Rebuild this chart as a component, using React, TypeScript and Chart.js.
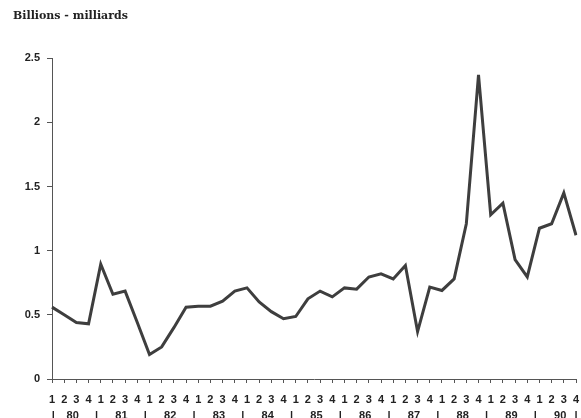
import React, { useEffect, useRef } from "react";
import { Chart, registerables } from "chart.js";

Chart.register(...registerables);

const years = ["80", "81", "82", "83", "84", "85", "86", "87", "88", "89", "90"];
const quarters = ["1", "2", "3", "4"];
const values = [
  0.56, 0.5, 0.44, 0.43,
  0.895, 0.66, 0.685, 0.44,
  0.19, 0.25, 0.4, 0.56,
  0.567, 0.567, 0.607, 0.685,
  0.71, 0.6, 0.525, 0.47,
  0.487, 0.625, 0.685, 0.64,
  0.71, 0.7, 0.795, 0.82,
  0.78, 0.885, 0.37, 0.717,
  0.69, 0.78, 1.21, 2.37,
  1.28, 1.37, 0.93, 0.795,
  1.175, 1.21, 1.45, 1.12,
];
const yTicks = [0, 0.5, 1, 1.5, 2, 2.5];
const titleText = "Billions - milliards";

const labels: string[] = [];
years.forEach(() => quarters.forEach((q) => labels.push(q)));

const TEXT = "#222";
const AXIS = "#555";
const TICK_FONT = { family: "'Liberation Sans', Arial, sans-serif", size: 11, weight: "bold" as const };

const yearRow = {
  id: "yearRow",
  afterDraw(chart: any) {
    const x = chart.scales.x;
    const ctx = chart.ctx;
    ctx.save();
    ctx.fillStyle = TEXT;
    ctx.font = "bold 11px 'Liberation Sans', Arial, sans-serif";
    ctx.textAlign = "center";
    ctx.textBaseline = "alphabetic";
    const y = 419;
    const n = years.length;
    for (let k = 0; k <= n; k++) {
      let v = k * 4 - 0.35;
      if (k === 0) v = 0.1;
      if (k === n) v = n * 4 - 1;
      ctx.fillText("|", x.getPixelForValue(v), y);
    }
    years.forEach((yr, k) => {
      ctx.fillText(yr, x.getPixelForValue(k * 4 + 1.7), y);
    });
    ctx.restore();
  },
};

export default function App() {
  const ref = useRef<HTMLCanvasElement | null>(null);
  useEffect(() => {
    document.body.style.margin = "0";
    const chart = new Chart(ref.current!, {
      type: "line",
      data: {
        labels,
        datasets: [
          {
            data: values,
            borderColor: "#3e3e3e",
            borderWidth: 3,
            pointRadius: 0,
            tension: 0,
            fill: false,
          },
        ],
      },
      options: {
        animation: false,
        responsive: true,
        maintainAspectRatio: false,
        layout: { padding: { left: 13, right: 5, top: 5, bottom: 0 } },
        plugins: {
          legend: { display: false },
          tooltip: { enabled: false },
          title: {
            display: true,
            text: titleText,
            align: "start",
            color: TEXT,
            font: { family: "'DejaVu Serif', serif", size: 11, weight: "bold" },
            padding: { top: 5, bottom: 35 },
          },
        },
        scales: {
          x: {
            type: "category",
            offset: false,
            grid: { drawOnChartArea: false, drawTicks: true, tickLength: 4, color: AXIS },
            border: { display: true, color: AXIS, width: 1 },
            ticks: {
              autoSkip: false,
              maxRotation: 0,
              minRotation: 0,
              padding: 10,
              color: TEXT,
              font: TICK_FONT,
            },
            afterFit(scale: any) {
              scale.height = 39;
              scale.paddingLeft = 0;
              scale.paddingRight = 0;
            },
          },
          y: {
            min: 0,
            max: 2.5,
            afterBuildTicks(scale: any) {
              scale.ticks = yTicks.map((v) => ({ value: v }));
            },
            grid: { drawOnChartArea: false, drawTicks: true, tickLength: 5, color: AXIS },
            border: { display: true, color: AXIS, width: 1 },
            ticks: {
              padding: 7,
              color: TEXT,
              font: TICK_FONT,
              callback: (v: any) => String(v),
            },
            afterFit(scale: any) {
              scale.width = 39;
              scale.paddingTop = 0;
              scale.paddingBottom = 0;
            },
          },
        },
      },
      plugins: [yearRow],
    });
    return () => chart.destroy();
  }, []);
  return (
    <div style={{ position: "fixed", left: 0, top: 0, width: 581, height: 418 }}>
      <canvas ref={ref} />
    </div>
  );
}
